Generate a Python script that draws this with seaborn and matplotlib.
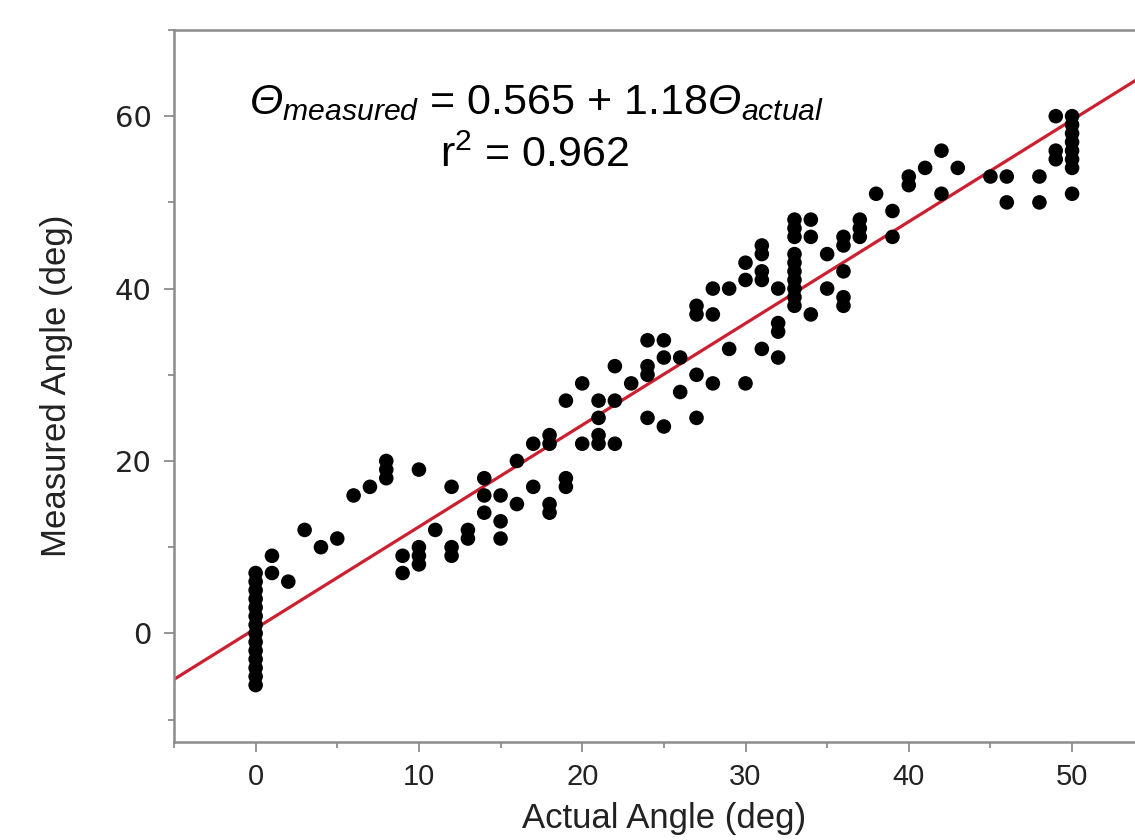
import numpy as np
import pandas as pd
import seaborn as sns
import matplotlib
matplotlib.use("Agg")
import matplotlib.pyplot as plt
from matplotlib.ticker import MultipleLocator

# data (deg)
actual_deg = ([0] * 14 + [1, 1, 2, 3, 4, 5, 6, 7, 8, 8, 8, 9, 9, 10, 10, 10, 10, 11,
              12, 12, 12, 13, 13, 14, 14, 14, 15, 15, 15, 16, 16, 17, 17,
              18, 18, 18, 18, 19, 19, 19, 20, 20, 21, 21, 21, 21, 22, 22, 22, 23,
              24, 24, 24, 24, 25, 25, 25, 26, 26, 27, 27, 27, 27, 28, 28, 28,
              29, 29, 30, 30, 30, 31, 31, 31, 31, 31, 32, 32, 32, 32]
              + [33] * 10 + [34, 34, 34, 35, 35, 36, 36, 36, 36, 36, 37, 37, 37,
              38, 39, 39, 40, 40, 41, 42, 42, 43, 45, 46, 46, 48, 48, 49, 49, 49]
              + [50] * 8)
measured_deg = [-6, -5, -4, -3, -2, -1, 0, 1, 2, 3, 4, 5, 6, 7,
                9, 7, 6, 12, 10, 11, 16, 17, 18, 19, 20, 9, 7, 19, 10, 9, 8, 12,
                17, 10, 9, 12, 11, 18, 16, 14, 16, 13, 11, 20, 15, 22, 17,
                23, 22, 15, 14, 27, 18, 17, 29, 22, 27, 25, 23, 22, 31, 27, 22, 29,
                34, 31, 30, 25, 34, 32, 24, 32, 28, 38, 37, 30, 25, 40, 37, 29,
                40, 33, 43, 41, 29, 45, 44, 42, 41, 33, 40, 36, 35, 32,
                48, 47, 46, 44, 43, 42, 41, 40, 39, 38,
                48, 46, 37, 44, 40, 46, 45, 42, 39, 38, 48, 47, 46,
                51, 49, 46, 53, 52, 54, 56, 51, 54, 53, 53, 50, 53, 50, 60, 56, 55,
                60, 59, 58, 57, 56, 55, 54, 51]

# fit reported on the chart
intercept = 0.565
slope = 1.18
r_squared = 0.962

df = pd.DataFrame({"actual": actual_deg, "measured": measured_deg})

sns.set_style("white")
plt.rcParams["font.family"] = ["Liberation Sans", "DejaVu Sans"]
plt.rcParams["mathtext.fontset"] = "custom"
plt.rcParams["mathtext.rm"] = "Liberation Sans"
plt.rcParams["mathtext.it"] = "Liberation Sans:italic"
# sf slot used for the italic theta (mathit keeps greek capitals upright)
plt.rcParams["mathtext.sf"] = "Liberation Sans:italic"

fig = plt.figure(figsize=(11.35, 8.4), dpi=100)
xmin, xmax = -5, 55
ymin, ymax = -12.6, 70
ax = fig.add_axes([0.1533, 0.1167, 1.0165 - 0.1533, 0.9643 - 0.1167])

# regression line from the reported coefficients
line_x = np.array([xmin, xmax])
line_df = pd.DataFrame({"x": line_x, "y": intercept + slope * line_x})
sns.lineplot(data=line_df, x="x", y="y", color="#cc1f2f", linewidth=2.3, ax=ax)

sns.scatterplot(data=df, x="actual", y="measured", color="black", s=110,
                edgecolor="none", ax=ax, zorder=3)

ax.set_xlim(xmin, xmax)
ax.set_ylim(ymin, ymax)
ax.xaxis.set_major_locator(MultipleLocator(10))
ax.xaxis.set_minor_locator(MultipleLocator(5))
ax.yaxis.set_major_locator(MultipleLocator(20))
ax.yaxis.set_minor_locator(MultipleLocator(10))

for side in ["left", "bottom", "top"]:
    ax.spines[side].set_color("#8c8c8c")
    ax.spines[side].set_linewidth(1.8)
ax.spines["right"].set_visible(False)

ax.tick_params(which="major", direction="out", length=7, width=1.3,
               color="#8c8c8c", left=True, bottom=True)
ax.tick_params(which="minor", direction="out", length=4, width=1.3,
               color="#8c8c8c", left=True, bottom=True)
ax.tick_params(axis="y", pad=9, labelsize=21, labelcolor="#222222")
ax.tick_params(axis="x", pad=8, labelsize=21, labelcolor="#222222")
for lab in ax.get_yticklabels():
    lab.set_family("DejaVu Sans")

ax.set_xlabel("Actual Angle (deg)", fontsize=25, color="#222222", labelpad=8)
ax.set_ylabel("Measured Angle (deg)", fontsize=25, color="#222222", labelpad=30)

fig.text(0.473, 0.877,
         r"$\mathsf{Θ}_{\mathsf{measured}}$ = 0.565 + 1.18$\mathsf{Θ}_{\mathsf{actual}}$",
         ha="center", va="center", fontsize=31, color="black")
fig.text(0.471, 0.815, "r$^{2}$ = %.3f" % r_squared,
         ha="center", va="center", fontsize=31, color="black")

fig.savefig("out.png", dpi=100)
